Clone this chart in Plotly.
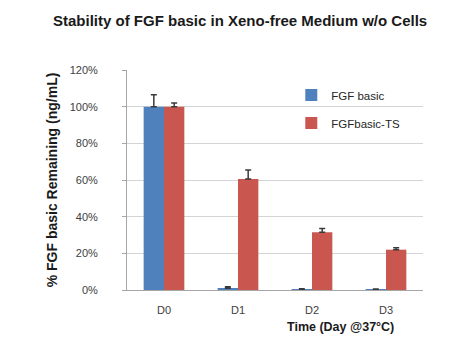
import plotly.graph_objects as go

days = ["D0", "D1", "D2", "D3"]
fgf_basic = [100, 1.0, 0.4, 0.3]
fgf_basic_err = [6.5, 0.8, 0.3, 0.2]
fgf_ts = [100, 60.5, 31.5, 22]
fgf_ts_err = [2, 5, 2, 1]
y_ticks = [0, 20, 40, 60, 80, 100, 120]
y_tick_labels = ["0%", "20%", "40%", "60%", "80%", "100%", "120%"]

fig = go.Figure()
fig.add_trace(go.Bar(
    x=days, y=fgf_basic, name="FGF basic", legendgroup="a",
    marker=dict(color="#4F81BD", line=dict(width=0)),
    error_y=dict(type="data", array=fgf_basic_err, arrayminus=[0]*4, symmetric=False,
                 color="#3a3a3a", thickness=1.5, width=3),
))
fig.add_trace(go.Bar(
    x=days, y=fgf_ts, name="FGFbasic-TS", legendgroup="b",
    marker=dict(color="#C9574F", line=dict(width=0)),
    error_y=dict(type="data", array=fgf_ts_err, arrayminus=[0]*4, symmetric=False,
                 color="#3a3a3a", thickness=1.5, width=3),
))

fig.update_layout(
    width=453, height=347,
    margin=dict(l=127, r=30, t=70, b=57),
    paper_bgcolor="white", plot_bgcolor="white",
    barmode="group", bargap=0.45, bargroupgap=0,
    font=dict(family="Liberation Sans, Arial", color="#404040"),
    title=dict(text="<b>Stability of FGF basic in Xeno-free Medium w/o Cells</b>",
               x=0.53, xanchor="center", y=0.94, yanchor="middle",
               font=dict(size=15, color="#1a1a1a")),
    showlegend=True,
    legend=dict(x=0.555, y=0.952, xanchor="left", yanchor="top",
                traceorder="grouped", tracegroupgap=9,
                font=dict(size=11.5, color="#262626"), bgcolor="rgba(0,0,0,0)",
                itemwidth=30),
    xaxis=dict(showline=True, linecolor="#a6a6a6", linewidth=1,
               tickfont=dict(size=11, color="#404040"), ticks="",
               ticklabelstandoff=10),
    yaxis=dict(range=[0, 120], tickvals=y_ticks, ticktext=y_tick_labels,
               showgrid=True, gridcolor="#d4d4d4", gridwidth=1,
               showline=True, linecolor="#a6a6a6", linewidth=1,
               ticks="outside", ticklen=4, tickcolor="#a6a6a6",
               ticklabelstandoff=22,
               tickfont=dict(size=11, color="#404040"), zeroline=False,
               title=dict(text="<b>% FGF basic Remaining (ng/mL)</b>",
                          font=dict(size=14, color="#1a1a1a"), standoff=8)),
    annotations=[dict(text="<b>Time (Day @37°C)</b>", xref="paper", yref="paper",
                      x=0.72, y=-0.17, xanchor="center", yanchor="middle",
                      showarrow=False, font=dict(size=12.5, color="#1a1a1a"))],
)

fig.write_html("out.html")
